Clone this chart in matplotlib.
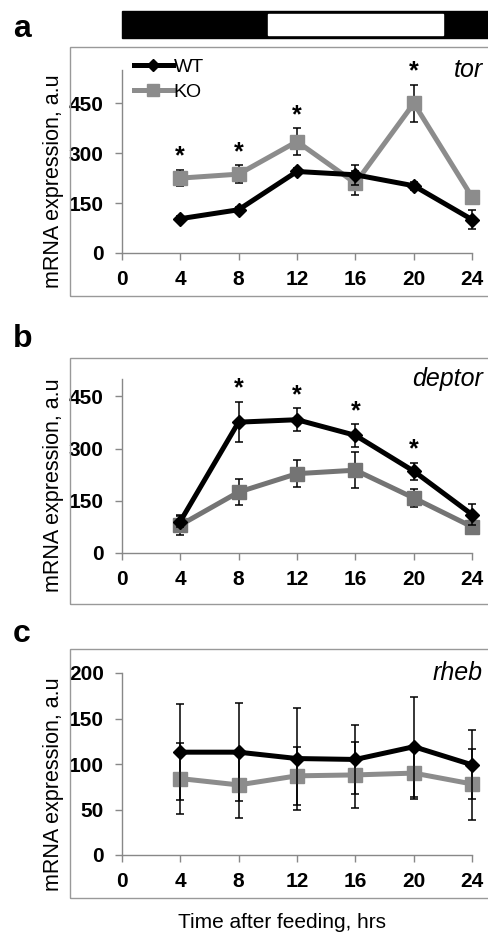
import matplotlib
matplotlib.use("Agg")
import matplotlib.pyplot as plt
from matplotlib.patches import Rectangle
from matplotlib.lines import Line2D

plt.rcParams['font.family'] = ['Liberation Sans', 'DejaVu Sans']

hours = [4, 8, 12, 16, 20, 24]
x_ticks = [0, 4, 8, 12, 16, 20, 24]

# tor
tor_wt = [103, 130, 245, 235, 202, 100]
tor_wt_err = [9, 9, 10, 30, 12, 28]
tor_ko = [225, 237, 335, 210, 450, 167]
tor_ko_err = [24, 26, 40, 35, 55, 10]
tor_sig = [4, 8, 12, 20]

# deptor
deptor_wt = [90, 376, 383, 338, 235, 110]
deptor_wt_err = [15, 58, 33, 32, 24, 30]
deptor_ko = [80, 175, 228, 238, 158, 75]
deptor_ko_err = [28, 37, 39, 51, 26, 10]
deptor_sig = [8, 12, 16, 20]

# rheb
rheb_wt = [113, 113, 106, 105, 119, 99]
rheb_wt_err = [53, 54, 56, 38, 55, 38]
rheb_ko = [84, 77, 87, 88, 90, 78]
rheb_ko_err = [39, 36, 32, 36, 28, 39]
rheb_sig = []

# dark / light bar (hours)
light_phase = [10, 22]

W, H = 489, 933
fig = plt.figure(figsize=(W / 100, H / 100), dpi=100)

def fy(px):
    return 1 - px / H

panels = [
    # letter, gene, wt, wterr, ko, koerr, sig, ymax, yticks, ko colour, axis top px, axis bottom px, frame top, frame bottom, letter baseline
    ("a", "tor", tor_wt, tor_wt_err, tor_ko, tor_ko_err, tor_sig, 550, [0, 150, 300, 450], "#8c8c8c", 70, 253, 47, 296, 37),
    ("b", "deptor", deptor_wt, deptor_wt_err, deptor_ko, deptor_ko_err, deptor_sig, 500, [0, 150, 300, 450], "#747474", 379, 553, 358, 604, 347),
    ("c", "rheb", rheb_wt, rheb_wt_err, rheb_ko, rheb_ko_err, rheb_sig, 200, [0, 50, 100, 150, 200], "#8c8c8c", 673, 855, 649, 898, 642),
]

x0, x1 = 121.7, 472.3

for letter, gene, wt, wterr, ko, koerr, sig, ymax, yticks, kocol, top, bot, ftop, fbot, ly in panels:
    # outer gray frame
    fig.patches.append(Rectangle((70 / W, fy(fbot)), 1.0, (fbot - ftop) / H,
                                 transform=fig.transFigure, fill=False,
                                 edgecolor="#999999", lw=1.0))
    fig.text(13 / W, fy(ly), letter, fontsize=23, fontweight="bold",
             ha="left", va="baseline")

    ax = fig.add_axes([x0 / W, fy(bot), (x1 - x0) / W, (bot - top) / H])
    ax.set_xlim(0, 24)
    ax.set_ylim(0, ymax)
    for s in ["top", "right"]:
        ax.spines[s].set_visible(False)
    for s in ["left", "bottom"]:
        ax.spines[s].set_color("#888888")
        ax.spines[s].set_linewidth(1.0)
    ax.set_xticks(x_ticks)
    ax.set_yticks(yticks)
    ax.tick_params(axis="both", colors="#888888", length=5, width=1,
                   labelcolor="black", labelsize=15, pad=8)
    ax.tick_params(axis="x", pad=7)
    for lab in ax.get_xticklabels() + ax.get_yticklabels():
        lab.set_fontweight("bold")
    ax.set_ylabel("mRNA expression, a.u", fontsize=15.5)
    ax.yaxis.set_label_coords(-0.165, 0.39)
    ax.patch.set_alpha(0)

    ax.errorbar(hours, ko, yerr=koerr, color=kocol, lw=3.6, marker="s",
                ms=10, ecolor="black", elinewidth=1.1, capsize=3,
                capthick=1.1, clip_on=False, zorder=3)
    ax.errorbar(hours, wt, yerr=wterr, color="black", lw=3.6, marker="D",
                ms=7, ecolor="black", elinewidth=1.1, capsize=3,
                capthick=1.1, clip_on=False, zorder=4)

    for h in sig:
        i = hours.index(h)
        top_val = max(wt[i] + wterr[i], ko[i] + koerr[i])
        ax.annotate("*", (h, top_val), xytext=(0, 1), textcoords="offset points",
                    ha="center", va="bottom", fontsize=18, fontweight="bold")

    ax.text(1.03, 1.0, gene, transform=ax.transAxes, ha="right", va="center",
            fontsize=18, style="italic")

    if letter == "a":
        handles = [Line2D([], [], color="black", lw=3.6, marker="D", ms=6),
                   Line2D([], [], color=kocol, lw=3.6, marker="s", ms=9)]
        leg = ax.legend(handles, ["WT", "KO"], loc="upper left",
                        bbox_to_anchor=(0.035, 1.064), frameon=False,
                        fontsize=14, handlelength=2.0, handletextpad=0.05,
                        labelspacing=0.4, borderpad=0, borderaxespad=0,
                        numpoints=1)

fig.text(0.577, fy(922), "Time after feeding, hrs", fontsize=15,
         ha="center", va="center")

# light/dark bar on top
bar = fig.add_axes([x0 / W, fy(38), (x1 - x0) / W, 27 / H])
bar.set_xlim(0, 24)
bar.set_ylim(0, 1)
bar.axis("off")
bar.add_patch(Rectangle((0, 0), 30, 1, color="black", clip_on=False))
bar.add_patch(Rectangle((light_phase[0], 0.11), light_phase[1] - light_phase[0], 0.78,
                        color="white", clip_on=False))

fig.savefig("out.png", dpi=100)
